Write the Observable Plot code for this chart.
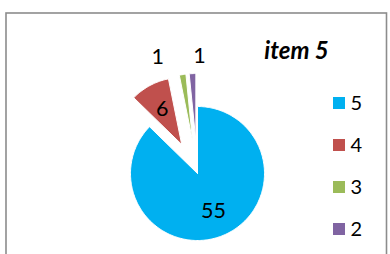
<!DOCTYPE html>
<html><head><meta charset="utf-8">
<script src="https://cdn.jsdelivr.net/npm/d3@7"></script>
<script src="https://cdn.jsdelivr.net/npm/@observablehq/plot@0.6"></script>
<style>body{margin:0;background:#fff} svg{display:block}</style>
</head><body><div id="chart"></div>
<script>
// ---- data ----
const categories = ["5", "4", "3", "2"];
const values = [55, 6, 1, 1];
const colors = ["#00B0F0", "#C0504D", "#9BBB59", "#8064A2"];
const title = "item 5";

// ---- layout ----
const W = 390, H = 254;
const cx = 197, cy = 173, R = 67;
const explodeDist = 33;
const font = "Lato, 'Open Sans', sans-serif";

const pieData = d3.pie().sort(null).value(d => d.value)(
  categories.map((c, i) => ({cat: c, value: values[i]}))
);

const polys = [];
const labels = [];
let outsideCount = 0;
pieData.forEach((p, i) => {
  const mid = (p.startAngle + p.endAngle) / 2;
  const e = i === 0 ? 0 : explodeDist;
  const ox = cx + e * Math.sin(mid), oy = cy - e * Math.cos(mid);
  polys.push({cat: p.data.cat, x: ox, y: oy});
  const n = Math.max(2, Math.ceil((p.endAngle - p.startAngle) / 0.02));
  for (let k = 0; k <= n; k++) {
    const a = p.startAngle + (p.endAngle - p.startAngle) * k / n;
    polys.push({cat: p.data.cat, x: ox + R * Math.sin(a), y: oy - R * Math.cos(a)});
  }
  polys.push({cat: p.data.cat, x: ox, y: oy});
  const frac = p.value / d3.sum(values);
  if (frac > 0.05) {
    const d = 0.61 * R;
    labels.push({text: String(p.value), x: ox + d * Math.sin(mid), y: oy - d * Math.cos(mid)});
  } else {
    const d = R + 20;
    const shift = outsideCount === 0 ? -22 : 8;
    outsideCount++;
    labels.push({text: String(p.value), x: ox + d * Math.sin(mid) + shift, y: oy - d * Math.cos(mid) + 2});
  }
});

const legend = categories.map((c, i) => ({cat: c, y: 103 + i * 42}));

const chart = Plot.plot({
  width: W, height: H,
  margin: 0,
  x: {domain: [0, W], range: [0, W], axis: null},
  y: {domain: [0, H], range: [0, H], axis: null},
  color: {domain: categories, range: colors},
  style: {fontFamily: font, background: "#fff"},
  marks: [
    Plot.rect([0], {x1: 6, x2: 386.5, y1: 13, y2: 280, fill: "none", stroke: "#8c8c8c", strokeWidth: 1.6}),
    Plot.line(polys, {x: "x", y: "y", z: "cat", fill: "cat", stroke: "white", strokeWidth: 1}),
    Plot.text(labels, {x: "x", y: "y", text: "text", fontSize: 21.5, fill: "black", fontFamily: font}),
    Plot.rect(legend, {x1: 333, x2: 345, y1: d => d.y - 6, y2: d => d.y + 6, fill: "cat"}),
    Plot.text(legend, {x: 350, y: "y", text: "cat", textAnchor: "start", fontSize: 20, fill: "black", fontFamily: font}),
    Plot.text([title], {x: 296, y: 51, text: d => d, fontSize: 24, fontWeight: "bold", fontStyle: "italic", fill: "black", fontFamily: font})
  ]
});
document.getElementById("chart").appendChild(chart);
</script>
</body></html>
